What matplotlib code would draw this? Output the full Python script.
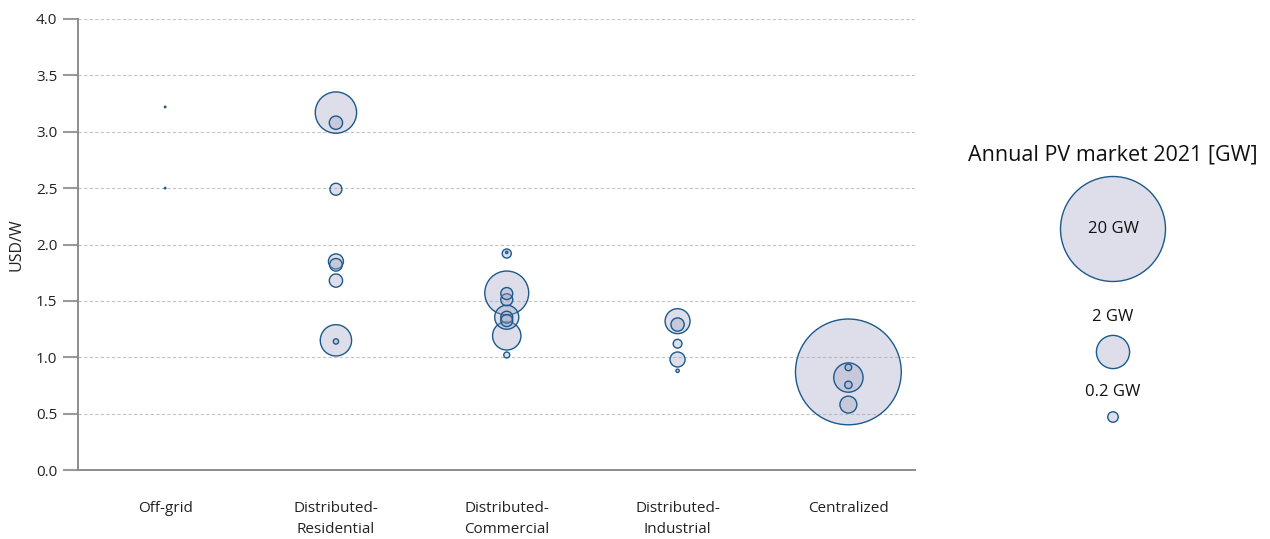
import matplotlib
matplotlib.use("Agg")
import matplotlib.pyplot as plt
import numpy as np

plt.rcParams['font.family'] = ['Open Sans', 'DejaVu Sans']

categories = ["Off-grid", "Distributed-\nResidential", "Distributed-\nCommercial",
              "Distributed-\nIndustrial", "Centralized"]

# price USD/W and annual market GW, per category
offgrid_price = [3.22, 2.50]
offgrid_gw = [0.004, 0.004]

residential_price = [3.17, 3.08, 2.49, 1.85, 1.82, 1.68, 1.15, 1.14]
residential_gw = [3.1, 0.32, 0.26, 0.41, 0.29, 0.32, 1.78, 0.05]

commercial_price = [1.92, 1.93, 1.57, 1.565, 1.51, 1.355, 1.355, 1.325, 1.19, 1.02]
commercial_gw = [0.15, 0.01, 3.5, 0.26, 0.26, 1.05, 0.26, 0.26, 1.46, 0.065]

industrial_price = [1.32, 1.29, 1.12, 0.98, 0.88]
industrial_gw = [1.13, 0.32, 0.14, 0.41, 0.02]

centralized_price = [0.87, 0.82, 0.91, 0.755, 0.58]
centralized_gw = [20.3, 1.56, 0.08, 0.10, 0.52]

legend_gw = [20, 2, 0.2]
legend_labels = ["20 GW", "2 GW", "0.2 GW"]

series_price = [offgrid_price, residential_price, commercial_price,
                industrial_price, centralized_price]
series_gw = [offgrid_gw, residential_gw, commercial_gw, industrial_gw, centralized_gw]

DPI = 100
SIZE_PER_GW = 285.7  # points^2 per GW

face = (0.62, 0.64, 0.76, 0.35)
edge = "#1b5a8c"

fig = plt.figure(figsize=(12.7, 5.39), dpi=DPI)
ax = fig.add_axes([78/1270, 69/539, 837/1270, 451/539])

for i, (prices, gws) in enumerate(zip(series_price, series_gw)):
    xs = np.full(len(prices), i, dtype=float)
    sizes = np.array(gws) * SIZE_PER_GW
    order = np.argsort(-sizes)
    ax.scatter(xs[order], np.array(prices)[order], s=sizes[order],
               facecolors=[face], edgecolors=edge, linewidths=1.0, zorder=3)

ax.set_xlim(-0.51, 4.39)
ax.set_ylim(0, 4.0)
ticks = np.arange(0, 4.01, 0.5)
ax.set_yticks(ticks)
ax.set_yticklabels([f"{v:.1f}" for v in ticks])
ax.set_xticks(range(len(categories)))
ax.set_xticklabels(categories, va='top', linespacing=1.6)
ax.tick_params(axis='x', length=0, pad=22, labelsize=11, colors='#222222')
ax.tick_params(axis='y', length=11, width=1.5, color='#9a9a9a', pad=4,
               labelsize=11, labelcolor='#222222')

ax.grid(axis='y', color='#c4c4c4', linestyle=(0, (3, 2)), linewidth=0.8, zorder=0)
ax.set_axisbelow(True)
for s in ['top', 'right']:
    ax.spines[s].set_visible(False)
for s in ['left', 'bottom']:
    ax.spines[s].set_color('#8c8c8c')
    ax.spines[s].set_linewidth(1.4)

ax.set_ylabel("USD/W", fontsize=11.5, color='#222222', labelpad=8)

# legend
lax = fig.add_axes([0, 0, 1, 1], facecolor='none')
lax.set_xlim(0, 1270)
lax.set_ylim(539, 0)
lax.axis('off')
lax.text(1113, 155, "Annual PV market 2021 [GW]", ha='center', va='center',
         fontsize=15.5, color='#111111')
leg_circle_y = [229, 352, 417]
leg_label_y = [229, 317, 392]
lax.scatter([1113] * 3, leg_circle_y, s=np.array(legend_gw) * SIZE_PER_GW,
            facecolors=[face], edgecolors=edge, linewidths=1.0, zorder=3)
for lbl, ly in zip(legend_labels, leg_label_y):
    lax.text(1113, ly, lbl, ha='center', va='center', fontsize=12,
             color='#111111', zorder=4)

fig.savefig("out.png", dpi=DPI)
